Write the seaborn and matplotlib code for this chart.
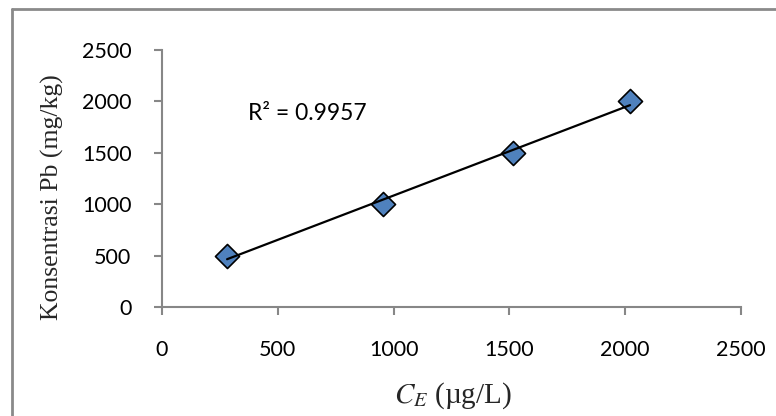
import matplotlib
matplotlib.use("Agg")
import matplotlib.pyplot as plt
from matplotlib.lines import Line2D
import numpy as np
import pandas as pd
import seaborn as sns

# Data
ce_ugL = [281, 954, 1514, 2021]
pb_mgkg = [500, 1000, 1500, 2000]
x_ticks = [0, 500, 1000, 1500, 2000, 2500]
y_ticks = [0, 500, 1000, 1500, 2000, 2500]
r2_label = "R\u00b2 = 0.9957"

df = pd.DataFrame({"CE": ce_ugL, "Pb": pb_mgkg})

sns.set_theme(style="white")
plt.rcParams["font.family"] = ["Lato", "DejaVu Sans"]
plt.rcParams["mathtext.fontset"] = "stix"

W, H = 776, 416
fig = plt.figure(figsize=(W / 100, H / 100), dpi=100)
ax = fig.add_axes([162 / W, 1 - 307 / H, (741 - 162) / W, (307 - 50) / H])

sns.scatterplot(data=df, x="CE", y="Pb", ax=ax, marker="D", s=150,
                color="#4f81bd", edgecolor="black", linewidth=1.2, zorder=3)
sns.regplot(data=df, x="CE", y="Pb", ax=ax, scatter=False, ci=None,
            truncate=True, line_kws=dict(color="black", lw=1.6, zorder=4))

ax.set_xlim(0, 2500)
ax.set_ylim(0, 2500)
ax.set_xticks(x_ticks)
ax.set_yticks(y_ticks)
ax.set_xticklabels([str(v) for v in x_ticks])
ax.set_yticklabels([str(v) for v in y_ticks])
ax.set_xlabel("")
ax.set_ylabel("")

spine_c = "#878787"
for s in ["top", "right"]:
    ax.spines[s].set_visible(False)
for s in ["left", "bottom"]:
    ax.spines[s].set_color(spine_c)
    ax.spines[s].set_linewidth(1.5)
ax.tick_params(axis="both", which="major", direction="out", length=6, width=1.5,
               color=spine_c, labelsize=15.5, labelcolor="black")
ax.tick_params(axis="x", pad=18, bottom=True)
ax.tick_params(axis="y", pad=16, left=True)
ax.set_facecolor("none")

fig.text(453 / W, 1 - 396 / H, "$C_E$ (\u00b5g/L)", fontsize=21,
         family="Liberation Serif", ha="center", va="center")
fig.text(52 / W, 1 - 197 / H, "Konsentrasi Pb (mg/kg)", fontsize=18.5,
         family="Liberation Serif", ha="center", va="center", rotation=90)

ax.text(370, 1885, r2_label, fontsize=16.5, ha="left", va="center", color="black")

# chart frame (left and top edges visible; right/bottom run off the crop)
fig.add_artist(Line2D([12.5 / W, 12.5 / W], [0, 1 - 8.5 / H],
                      transform=fig.transFigure, color="#8a8a8a", lw=2))
fig.add_artist(Line2D([12.5 / W, 1], [1 - 8.5 / H, 1 - 8.5 / H],
                      transform=fig.transFigure, color="#8a8a8a", lw=2))

fig.savefig("out.png", dpi=100)
